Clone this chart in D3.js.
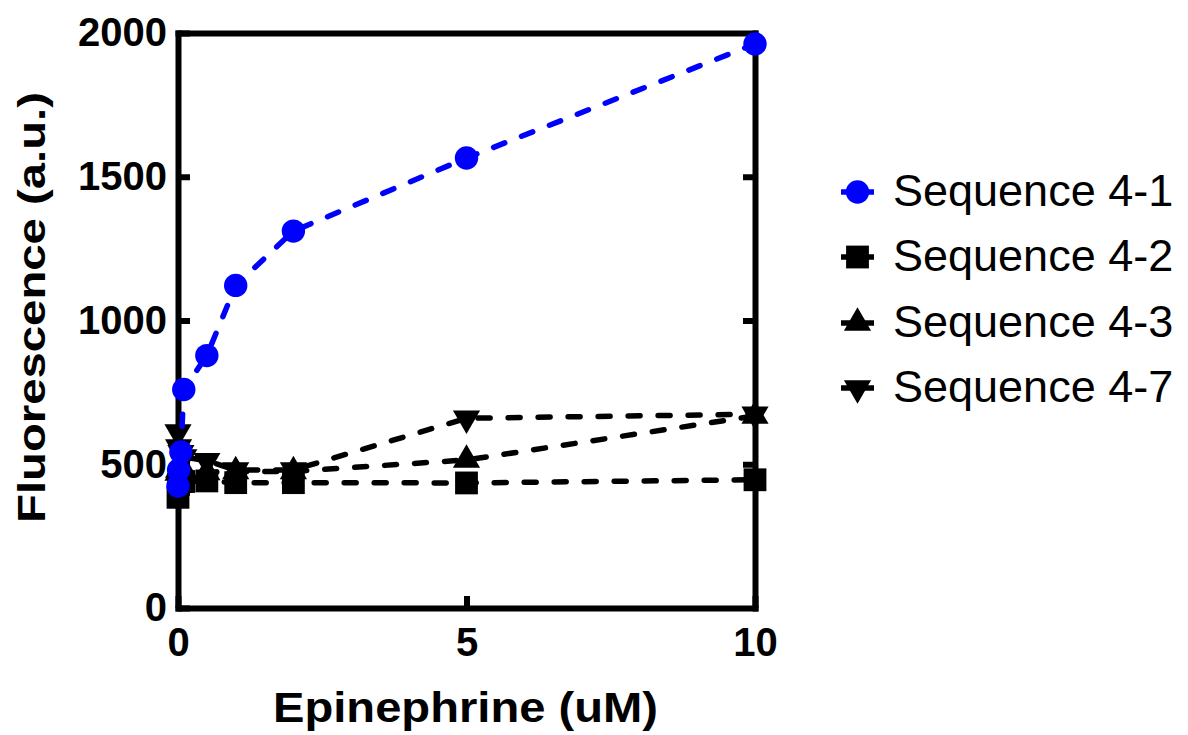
<!DOCTYPE html>
<html>
<head>
<meta charset="utf-8">
<script src="https://cdn.jsdelivr.net/npm/d3@7"></script>
<style>
  html, body { margin: 0; padding: 0; background: #fff; }
  svg { display: block; }
  text { font-family: "Liberation Sans", Arial, sans-serif; }
</style>
</head>
<body>
<svg id="chart" width="1188" height="735"></svg>
<script>
// Epinephrine concentrations (uM)
const concentrations = [0, 0.01, 0.05, 0.1, 0.5, 1, 2, 5, 10];

// Fluorescence readings (a.u.) for each aptamer sequence
const seq41 = [424, 480, 543, 760, 878, 1122, 1311, 1565, 1962];
const seq42 = [385, 430, 440, 440, 442, 436, 436, 435, 446];
const seq43 = [470, 480, 485, 480, 472, 475, 475, 515, 668];
const seq47 = [612, 560, 540, 525, 512, 480, 480, 660, 674];

const seriesNames = ["Sequence 4-1", "Sequence 4-2", "Sequence 4-3", "Sequence 4-7"];
const seriesColors = ["#0000ff", "#000000", "#000000", "#000000"];
const seriesSymbols = ["circle", "square", "triangle", "triangleDown"];

const xTicks = [0, 5, 10];
const yTicks = [0, 500, 1000, 1500, 2000];

const svg = d3.select("#chart");
const x = d3.scaleLinear().domain([0, 10]).range([178, 755]);
const y = d3.scaleLinear().domain([0, 2000]).range([608, 33]);

const axisStroke = 6;
const tick = 12;

function styleAxis(g) {
  g.select(".domain").attr("stroke", "#000").attr("stroke-width", axisStroke)
    .attr("stroke-linecap", "square");
  g.selectAll(".tick line").attr("stroke", "#000").attr("stroke-width", axisStroke);
  g.selectAll(".tick text").attr("fill", "#000")
    .style("font-family", "'Liberation Sans', Arial, sans-serif")
    .style("font-weight", "bold").style("font-size", "40px");
}

// Frame: top and right sides
svg.append("g").attr("transform", `translate(0,${y(2000)})`)
  .call(d3.axisTop(x).tickValues([]).tickSizeOuter(0))
  .call(styleAxis);
svg.append("g").attr("transform", `translate(${x(10)},0)`)
  .call(d3.axisRight(y).tickValues([500, 1000, 1500]).tickSize(-tick).tickSizeOuter(0).tickFormat(""))
  .call(styleAxis);

// Left axis
svg.append("g").attr("transform", `translate(${x(0)},0)`)
  .call(d3.axisLeft(y).tickValues(yTicks).tickSize(-tick).tickSizeOuter(0).tickPadding(11)
    .tickFormat(d3.format("d")))
  .call(styleAxis);

// Bottom axis
svg.append("g").attr("transform", `translate(0,${y(0)})`)
  .call(d3.axisBottom(x).tickValues(xTicks).tickSize(-tick).tickSizeOuter(0).tickPadding(20)
    .tickFormat(d3.format("d")))
  .call(styleAxis);

// Axis titles
svg.append("text")
  .attr("x", 465.5).attr("y", 722)
  .attr("text-anchor", "middle")
  .attr("textLength", 385).attr("lengthAdjust", "spacingAndGlyphs")
  .style("font-weight", "bold").style("font-size", "42px")
  .text("Epinephrine (uM)");

svg.append("text")
  .attr("transform", "translate(45,307.5) rotate(-90)")
  .attr("text-anchor", "middle")
  .attr("textLength", 431).attr("lengthAdjust", "spacingAndGlyphs")
  .style("font-weight", "bold").style("font-size", "38px")
  .text("Fluorescence (a.u.)");

// Marker shapes
function symbolPath(kind) {
  if (kind === "circle") return d3.symbol(d3.symbolCircle, 430)();
  if (kind === "square") return d3.symbol(d3.symbolSquare, 520)();
  return d3.symbol(d3.symbolTriangle, 320)();
}
function symbolTransform(kind, px, py) {
  return kind === "triangleDown"
    ? `translate(${px},${py}) rotate(180)`
    : `translate(${px},${py})`;
}

const allSeries = [seq41, seq42, seq43, seq47];
const line = d3.line()
  .x((d, i) => x(concentrations[i]))
  .y(d => y(d));

// Draw black series first, the blue series on top
const order = [3, 2, 1, 0];
order.forEach(si => {
  const vals = allSeries[si];
  const g = svg.append("g");
  g.append("path")
    .datum(vals)
    .attr("d", line)
    .attr("fill", "none")
    .attr("stroke", seriesColors[si])
    .attr("stroke-width", 5.5)
    .attr("stroke-linecap", "round")
    .attr("stroke-dasharray", "12,18");
  g.selectAll("path.mark")
    .data(vals)
    .enter().append("path")
    .attr("class", "mark")
    .attr("d", symbolPath(seriesSymbols[si]))
    .attr("transform", (d, i) => symbolTransform(seriesSymbols[si], x(concentrations[i]), y(d)))
    .attr("fill", seriesColors[si]);
});

// Legend
const legendY = [192, 257, 323, 388];
const legend = svg.append("g");
seriesNames.forEach((name, i) => {
  const gy = legendY[i];
  legend.append("line")
    .attr("x1", 841).attr("x2", 874).attr("y1", gy).attr("y2", gy)
    .attr("stroke", seriesColors[i]).attr("stroke-width", 5.5);
  legend.append("path")
    .attr("d", symbolPath(seriesSymbols[i]))
    .attr("transform", symbolTransform(seriesSymbols[i], 857.5, gy))
    .attr("fill", seriesColors[i]);
  legend.append("text")
    .attr("x", 893).attr("y", gy + 14)
    .style("font-size", "45px")
    .attr("fill", "#000")
    .text(name);
});
</script>
</body>
</html>
